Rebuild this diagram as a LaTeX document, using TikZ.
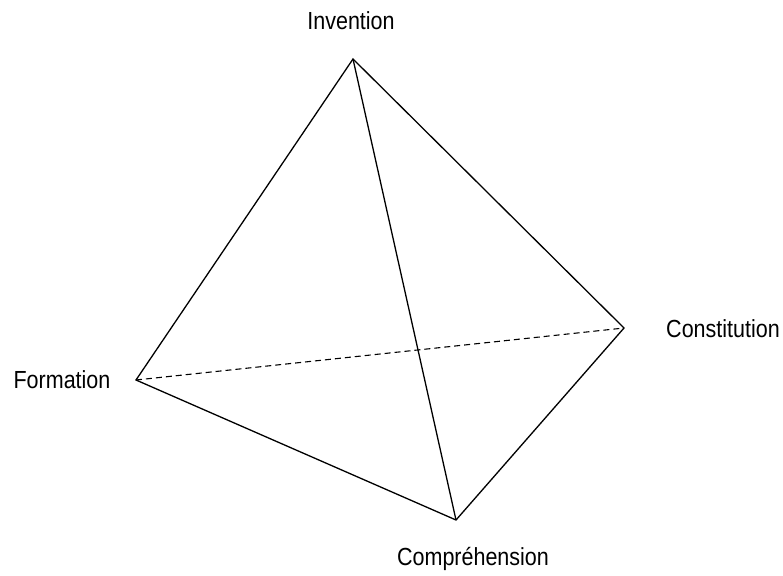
\documentclass[tikz,border=0pt]{standalone}
\usepackage{fontspec}
\setmainfont{Liberation Sans}
\newcommand{\tall}[1]{\scalebox{1}[1.15]{#1}}
\begin{document}
\begin{tikzpicture}[x=1pt,y=-1pt,
  edge/.style={line width=1.3pt,line join=miter},
  hidden/.style={line width=1.1pt,dash pattern=on 6pt off 4pt},
  lbl/.style={anchor=base,inner sep=0pt,font=\fontsize{21.5}{24}\selectfont}]
\useasboundingbox (0,0) rectangle (783,575);
\coordinate (I) at (353,59);
\coordinate (C) at (624,328);
\coordinate (F) at (136,380);
\coordinate (P) at (456,520);
\draw[edge] (F) -- (I) -- (C) -- (P) -- cycle;
\draw[edge] (I) -- (P);
\draw[hidden] (F) -- (C);
\node[lbl] (tI) at (351,30) {\tall{Invention}};
\node[lbl] (tC) at (723,337) {\tall{Constitution}};
\node[lbl] (tF) at (62,388) {\tall{Formation}};
\node[lbl] (tP) at (473,565) {\tall{Compréhension}};
\end{tikzpicture}
\end{document}
